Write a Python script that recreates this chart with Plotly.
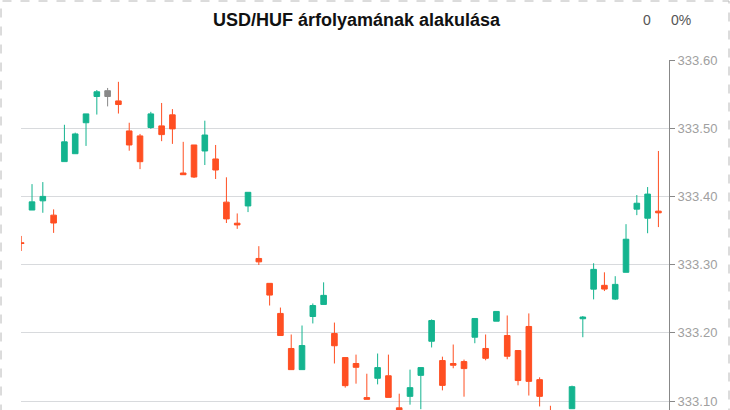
import plotly.graph_objects as go

title_text = "USD/HUF árfolyamának alakulása"
change_abs = "0"
change_pct = "0%"

opens = [333.332, 333.380, 333.3935, 333.3725, 333.451, 333.4626, 333.508, 333.5465, 333.5465, 333.540,
         333.496, 333.4887, 333.501, 333.5034, 333.5196, 333.4343, 333.4754, 333.4666, 333.4549, 333.3916,
         333.3607, 333.386, 333.309, 333.2725, 333.2284, 333.177, 333.146, 333.2239, 333.2416, 333.199,
         333.1637, 333.155, 333.105, 333.1333, 333.137, 333.090, 333.1068, 333.1376, 333.1876, 333.1593,
         333.155, 333.1578, 333.1935, 333.177, 333.217, 333.196, 333.174, 333.2093, 333.1313, 333.080,
         333.065, 333.0887, 333.2206, 333.264, 333.2696, 333.2494, 333.2887, 333.3813, 333.368, 333.3784]
highs = [333.342, 333.418, 333.421, 333.381, 333.505, 333.4935, 333.521, 333.556, 333.559, 333.568,
         333.508, 333.4916, 333.524, 333.537, 333.528, 333.480, 333.4754, 333.511, 333.4754, 333.428,
         333.375, 333.406, 333.327, 333.2725, 333.237, 333.1975, 333.2107, 333.243, 333.274, 333.215,
         333.1637, 333.168, 333.140, 333.1696, 333.168, 333.1107, 333.146, 333.149, 333.2196, 333.165,
         333.1828, 333.1607, 333.221, 333.1975, 333.2313, 333.2254, 333.174, 333.2284, 333.1347, 333.093,
         333.084, 333.1225, 333.2246, 333.302, 333.2887, 333.283, 333.3593, 333.402, 333.4137, 333.4666]
lows = [333.320, 333.380, 333.376, 333.3465, 333.451, 333.4626, 333.474, 333.520, 333.532, 333.5215,
        333.467, 333.440, 333.499, 333.481, 333.477, 333.4318, 333.427, 333.446, 333.4255, 333.361,
        333.3524, 333.377, 333.2994, 333.240, 333.196, 333.146, 333.146, 333.2137, 333.2416, 333.155,
        333.1196, 333.1254, 333.1024, 333.1244, 333.1053, 333.070, 333.0946, 333.088, 333.1785, 333.1156,
        333.148, 333.1063, 333.1847, 333.1597, 333.217, 333.1612, 333.123, 333.108, 333.092, 333.065,
        333.060, 333.0887, 333.1935, 333.249, 333.2612, 333.248, 333.2887, 333.3725, 333.346, 333.355]
closes = [333.331, 333.392, 333.400, 333.361, 333.480, 333.4916, 333.521, 333.5534, 333.555, 333.5347,
          333.4754, 333.4509, 333.521, 333.4906, 333.499, 333.4318, 333.4284, 333.490, 333.4387, 333.367,
          333.3582, 333.406, 333.304, 333.2553, 333.196, 333.146, 333.1813, 333.240, 333.2549, 333.181,
          333.1225, 333.1494, 333.1024, 333.149, 333.1053, 333.075, 333.1196, 333.149, 333.218, 333.1229,
          333.1524, 333.1475, 333.221, 333.1626, 333.2313, 333.1656, 333.130, 333.1288, 333.1068, 333.070,
          333.080, 333.121, 333.2231, 333.293, 333.2641, 333.271, 333.3372, 333.390, 333.4034, 333.3759]
neutral_idx = [8]

y_ticks = [333.10, 333.20, 333.30, 333.40, 333.50, 333.60]

GREEN = "#14b48f"
RED = "#ff4f22"
GRAY = "#888888"

idx = list(range(len(opens)))
main_o, main_h, main_l, main_c = [], [], [], []
for i in idx:
    if i in neutral_idx:
        main_o.append(None); main_h.append(None); main_l.append(None); main_c.append(None)
    else:
        main_o.append(opens[i]); main_h.append(highs[i]); main_l.append(lows[i]); main_c.append(closes[i])

fig = go.Figure()
fig.add_trace(go.Candlestick(
    x=idx, open=main_o, high=main_h, low=main_l, close=main_c,
    increasing=dict(line=dict(color=GREEN, width=1), fillcolor=GREEN),
    decreasing=dict(line=dict(color=RED, width=1), fillcolor=RED),
    showlegend=False, hoverinfo="skip",
))
fig.add_trace(go.Candlestick(
    x=[idx[i] for i in neutral_idx],
    open=[opens[i] for i in neutral_idx], high=[highs[i] for i in neutral_idx],
    low=[lows[i] for i in neutral_idx], close=[closes[i] for i in neutral_idx],
    increasing=dict(line=dict(color=GRAY, width=1), fillcolor=GRAY),
    decreasing=dict(line=dict(color=GRAY, width=1), fillcolor=GRAY),
    showlegend=False, hoverinfo="skip",
))

fig.update_layout(
    width=730, height=410,
    margin=dict(l=21, r=61, t=60, b=0),
    paper_bgcolor="white", plot_bgcolor="white",
    boxgap=0.26,
    font=dict(family="Liberation Sans, Arial, sans-serif"),
    xaxis=dict(visible=False, range=[-0.02, len(opens) - 0.02], rangeslider=dict(visible=False)),
    yaxis=dict(
        side="right", range=[333.0868, 333.60],
        tickvals=y_ticks, ticktext=[f"{v:.2f}" for v in y_ticks],
        ticks="outside", ticklen=5, tickcolor="#888888",
        showline=True, linecolor="#888888", linewidth=1,
        showgrid=True, gridcolor="#d8dadd", gridwidth=1,
        tickfont=dict(size=13, color="#a0a0a0"),
        zeroline=False,
    ),
    shapes=[dict(type="rect", xref="paper", yref="paper",
                 x0=(1 - 21) / 648, x1=(729 - 21) / 648, y0=-0.05, y1=(410 - 1) / 350,
                 line=dict(color="#b8b8b8", width=1, dash="dash"), fillcolor="rgba(0,0,0,0)")],
    annotations=[
        dict(text=f"<b>{title_text}</b>", xref="paper", yref="paper",
             x=(357 - 21) / 648, y=(410 - 20) / 350, xanchor="center", yanchor="middle",
             showarrow=False, font=dict(size=18, color="#111111")),
        dict(text=change_abs, xref="paper", yref="paper",
             x=(647 - 21) / 648, y=(410 - 20) / 350, xanchor="center", yanchor="middle",
             showarrow=False, font=dict(size=14, color="#555555")),
        dict(text=change_pct, xref="paper", yref="paper",
             x=(681 - 21) / 648, y=(410 - 20) / 350, xanchor="center", yanchor="middle",
             showarrow=False, font=dict(size=14, color="#555555")),
    ],
)

fig.write_html("out.html", config={"displayModeBar": False, "staticPlot": False},
               post_script="document.body.style.margin='0';document.body.style.overflow='hidden';")
